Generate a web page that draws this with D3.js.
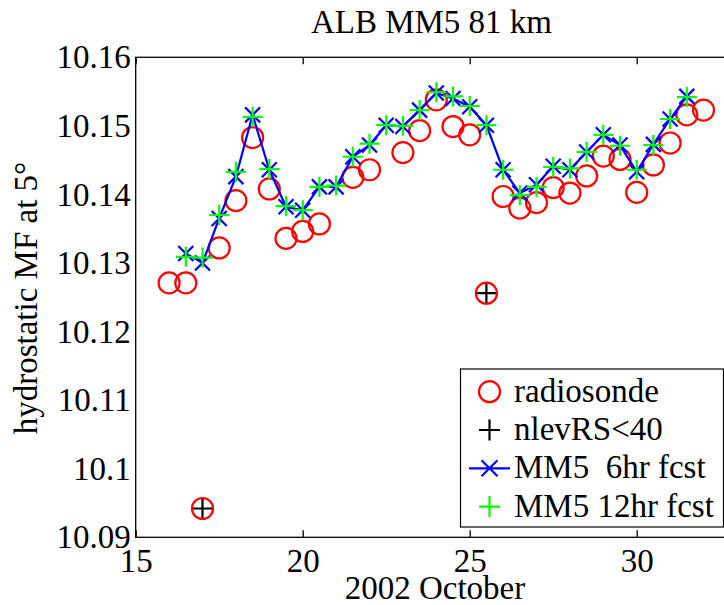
<!DOCTYPE html>
<html>
<head>
<meta charset="utf-8">
<script src="https://cdn.jsdelivr.net/npm/d3@7"></script>
<style>
    body { margin: 0; background: #fff; }
    #chart { width: 724px; height: 605px; overflow: hidden; }
    .axis path, .axis line { stroke: #000; stroke-width: 1.3; }
</style>
</head>
<body>
<div id="chart"></div>
<script>
// radiosonde, one value every half day (null = no sounding)
const rsDays = [16, 16.5, 17, 17.5, 18, 18.5, 19, 19.5, 20, 20.5, 21, 21.5, 22, 22.5, 23, 23.5, 24,
                24.5, 25, 25.5, 26, 26.5, 27, 27.5, 28, 28.5, 29, 29.5, 30, 30.5, 31, 31.5, 32]
const rsValues = [10.1271, 10.1271, 10.0942, 10.1322, 10.1391, 10.1483, 10.1408, 10.1336, 10.1346, 10.1357,
                  null, 10.1425, 10.1436, null, 10.1461, 10.1493, 10.1538, 10.1499, 10.1487, 10.1256,
                  10.1397, 10.1380, 10.1388, 10.1410, 10.1402, 10.1427, 10.1456, 10.1451, 10.1403,
                  10.1443, 10.1475, 10.1516, 10.1523]
// soundings with fewer than 40 levels
const lowLevDays = [17, 25.5]
const lowLevValues = [10.0942, 10.1256]
// MM5 forecasts
const fcstDays = [16.5, 17, 17.5, 18, 18.5, 19, 19.5, 20, 20.5, 21, 21.5, 22, 22.5, 23, 23.5, 24,
                  24.5, 25, 25.5, 26, 26.5, 27, 27.5, 28, 28.5, 29, 29.5, 30, 30.5, 31, 31.5]
const mm5_6hr = [10.1314, 10.1300, 10.1365, 10.1426, 10.1516, 10.1436, 10.1382, 10.1377, 10.1411, 10.1411,
                 10.1455, 10.1472, 10.1501, 10.1499, 10.1523, 10.1548, 10.1540, 10.1528, 10.1501, 10.1436,
                 10.1402, 10.1414, 10.1441, 10.1436, 10.1462, 10.1487, 10.1472, 10.1433, 10.1473,
                 10.1510, 10.1543]
const mm5_12hr = [10.1309, 10.1308, 10.1370, 10.1433, 10.1513, 10.1437, 10.1383, 10.1377, 10.1411, 10.1413,
                  10.1455, 10.1474, 10.1501, 10.1500, 10.1523, 10.1549, 10.1543, 10.1529, 10.1501, 10.1436,
                  10.1399, 10.1411, 10.1440, 10.1438, 10.1462, 10.1487, 10.1471, 10.1436, 10.1472,
                  10.1510, 10.1542]
const xTicks = [15, 20, 25, 30]
const yTicks = [10.09, 10.1, 10.11, 10.12, 10.13, 10.14, 10.15, 10.16]
const legendLabels = ['radiosonde', 'nlevRS<40', 'MM5  6hr fcst', 'MM5 12hr fcst']

const serif = 'Liberation Serif'

const area = document.querySelector('#chart')
drawChart()
function drawChart(){
    const margin = {left : 135.7, top : 57.3},
          width  = 601.2,
          height = 480;
    const svg = d3.select(area).append('svg')
    .attr('width', 724)
    .attr('height', 605)
    svg.append('rect').attr('width', 724).attr('height', 605).attr('fill', '#fff')
    const chart = svg.append('g')
    .attr('transform', `translate(${margin.left},${margin.top})`)

    const xScale = d3.scaleLinear().domain([15, 33]).range([0, width])
    const yScale = d3.scaleLinear().domain([10.09, 10.16]).range([height, 0])

    //Axes box
    chart.append('rect')
    .attr('width', width).attr('height', height)
    .attr('fill', 'none').attr('stroke', '#000').attr('stroke-width', 1.3)

    const xAxis = chart.append('g')
    .attr('class', 'axis')
    .attr('transform', `translate(0,${height})`)
    .call(d3.axisBottom(xScale).tickValues(xTicks).tickSizeInner(-7).tickSizeOuter(0))
    xAxis.selectAll('text').attr('y', 34.5).attr('dy', 0)
    chart.append('g')
    .attr('class', 'axis')
    .call(d3.axisTop(xScale).tickValues(xTicks).tickSizeInner(-7).tickSizeOuter(0).tickFormat(''))
    chart.append('g')
    .attr('class', 'axis')
    .call(d3.axisLeft(yScale).tickValues(yTicks).tickSize(0).tickPadding(5)
        .tickFormat((d) => String(+d.toFixed(2))))
    chart.selectAll('.axis .domain').remove()
    chart.selectAll('.axis')
    .attr('font-family', serif)
    .attr('font-size', 33)
    chart.selectAll('.axis text').attr('fill', '#000')

    //Titles
    const label = (x, y, t) => svg.append('text')
    .attr('x', x).attr('y', y)
    .attr('text-anchor', 'middle')
    .attr('font-family', serif)
    .attr('font-size', 33)
    .text(t)
    label(431.5, 33, 'ALB MM5 81 km')
    label(435, 598.5, '2002 October')
    label(0, 0, 'hydrostatic MF at 5°')
    .attr('transform', 'translate(37,298) rotate(-90)')

    const plus = (s) => `M${-s},0H${s}M0,${-s}V${s}`
    const cross = (s) => `M${-s},${-s}L${s},${s}M${-s},${s}L${s},${-s}`

    //radiosonde
    const rs = rsDays.map((d, i) => ({ day : d, value : rsValues[i] })).filter((d) => d.value != null)
    chart.selectAll('.rs')
    .data(rs)
    .enter()
        .append('circle')
        .attr('class', 'rs')
        .attr('cx', (d) => xScale(d.day))
        .attr('cy', (d) => yScale(d.value))
        .attr('r', 10.5)
        .attr('fill', 'none')
        .attr('stroke', '#f00')
        .attr('stroke-width', 2.2)

    //nlevRS<40
    chart.selectAll('.low')
    .data(lowLevDays)
    .enter()
        .append('path')
        .attr('class', 'low')
        .attr('transform', (d, i) => `translate(${xScale(d)},${yScale(lowLevValues[i])})`)
        .attr('d', plus(9.5))
        .attr('stroke', '#000')
        .attr('stroke-width', 2.2)

    //MM5 6hr
    const f6 = fcstDays.map((d, i) => ({ day : d, value : mm5_6hr[i] }))
    const line = d3.line()
    .x((d) => xScale(d.day))
    .y((d) => yScale(d.value))
    chart.append('path')
    .datum(f6)
    .attr('d', line)
    .attr('fill', 'none')
    .attr('stroke', '#00f')
    .attr('stroke-width', 2.2)
    chart.selectAll('.f6')
    .data(f6)
    .enter()
        .append('path')
        .attr('class', 'f6')
        .attr('transform', (d) => `translate(${xScale(d.day)},${yScale(d.value)})`)
        .attr('d', cross(7.5))
        .attr('stroke', '#00f')
        .attr('stroke-width', 2.2)

    //MM5 12hr
    chart.selectAll('.f12')
    .data(fcstDays)
    .enter()
        .append('path')
        .attr('class', 'f12')
        .attr('transform', (d, i) => `translate(${xScale(d)},${yScale(mm5_12hr[i])})`)
        .attr('d', plus(10))
        .attr('stroke', '#0f0')
        .attr('stroke-width', 2.2)

    //Legend
    const legend = svg.append('g')
    legend.append('rect')
    .attr('x', 460.5).attr('y', 369)
    .attr('width', 263).attr('height', 158)
    .attr('fill', '#fff').attr('stroke', '#000').attr('stroke-width', 1.2)
    const rowY = (i) => 401.7 + i * 38.3
    legend.selectAll('text')
    .data(legendLabels)
    .enter()
        .append('text')
        .attr('x', 514)
        .attr('y', (d, i) => rowY(i))
        .attr('font-family', serif)
        .attr('font-size', 33)
        .style('white-space', 'pre')
        .text((d) => d)
    legend.append('circle')
    .attr('cx', 489.5).attr('cy', rowY(0) - 10).attr('r', 10.5)
    .attr('fill', 'none').attr('stroke', '#f00').attr('stroke-width', 2.2)
    legend.append('path')
    .attr('transform', `translate(489.5,${rowY(1) - 10})`)
    .attr('d', plus(10.5)).attr('stroke', '#000').attr('stroke-width', 2.2)
    legend.append('path')
    .attr('d', `M469,${rowY(2) - 10}H510`)
    .attr('stroke', '#00f').attr('stroke-width', 2.2)
    legend.append('path')
    .attr('transform', `translate(489.5,${rowY(2) - 10})`)
    .attr('d', cross(8)).attr('stroke', '#00f').attr('stroke-width', 2.2)
    legend.append('path')
    .attr('transform', `translate(489.5,${rowY(3) - 10})`)
    .attr('d', plus(10.5)).attr('stroke', '#0f0').attr('stroke-width', 2.2)
}
</script>
</body>
</html>
